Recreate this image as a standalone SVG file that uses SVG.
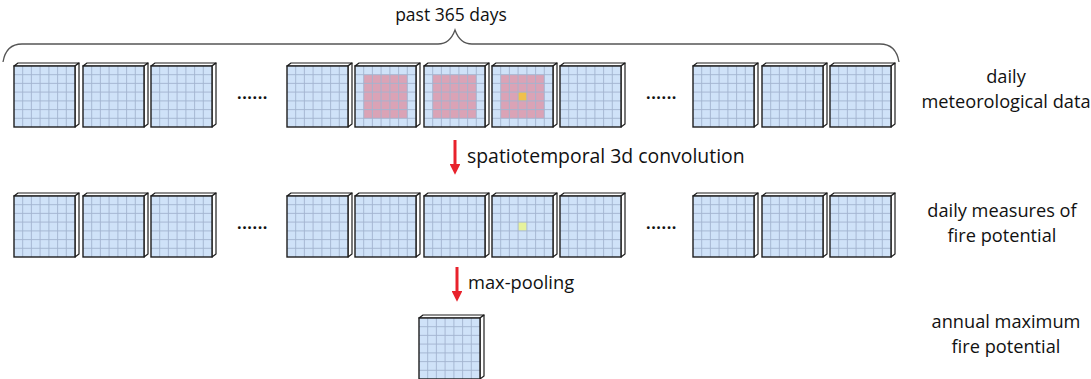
<svg xmlns="http://www.w3.org/2000/svg" xmlns:xlink="http://www.w3.org/1999/xlink" width="1091" height="379" viewBox="0 0 1091 379">
  <style>
    .lbl { font-family: "Open Sans", Lato, "Liberation Sans", sans-serif; fill: #111; }
    .side { font-size: 18.2px; text-anchor: middle; }
    .step { font-size: 18.3px; }
    .step.wide { font-size: 19.4px; }
    .dots { font-size: 16px; font-weight: bold; letter-spacing: 0.6px; }
    .face { fill: #cfe2f8; stroke: none; }
    .edge { fill: #ffffff; stroke: #1e1e1e; stroke-width: 1.2; stroke-linejoin: round; }
    .rim { fill: none; stroke: #1e1e1e; stroke-width: 1.4; }
    .grid { stroke: #a3b4cf; stroke-width: 0.9; fill: none; }
    .region { fill: #dc98aa; opacity: 0.85; }
    .hot { fill: #f0c04c; }
    .warm { fill: #e6f29c; }
    .brace { fill: none; stroke: #555; stroke-width: 1.3; }
    .flow { stroke: #e8222c; stroke-width: 3; fill: none; }
  </style>
  <defs>
    <!-- one tile: 61x61 front face with a 7x7 cell grid, plus thin top and side faces -->
    <g id="slab">
      <polygon class="edge" points="0,0 4,-3 65,-3 61,0"/>
      <polygon class="edge" points="61,0 65,-3 65,58 61,61"/>
      <rect class="face" x="0" y="0" width="61" height="61"/>
    </g>
    <path id="cells" class="grid" d="M8.7,0V61M17.4,0V61M26.1,0V61M34.9,0V61M43.6,0V61M52.3,0V61M0,8.7H61M0,17.4H61M0,26.1H61M0,34.9H61M0,43.6H61M0,52.3H61"/>
    <rect id="frame" class="rim" x="0" y="0" width="61" height="61"/>
    <marker id="head" viewBox="0 0 10 10" refX="2" refY="5" markerWidth="3.6" markerHeight="3.6" orient="auto" markerUnits="strokeWidth">
      <path d="M0,0 L10,5 L0,10 Z" fill="#e8222c"/>
    </marker>
  </defs>

  <!-- brace over the year of inputs -->
  <path class="brace" d="M3,62 Q6,44 22,44 L438,44 Q450,44 455,30 Q460,44 472,44 L880,44 Q896,44 899,62"/>
  <text class="lbl" x="451" y="21" font-size="17.5" text-anchor="middle">past 365 days</text>

  <!-- row 1: daily meteorological data -->
  <g id="met-1" transform="translate(14,66)"><use href="#slab"/><use href="#cells"/><use href="#frame"/></g>
  <g id="met-2" transform="translate(83,66)"><use href="#slab"/><use href="#cells"/><use href="#frame"/></g>
  <g id="met-3" transform="translate(151,66)"><use href="#slab"/><use href="#cells"/><use href="#frame"/></g>
  <text class="lbl dots" x="237" y="99">......</text>
  <g id="met-4" transform="translate(287,66)"><use href="#slab"/><use href="#cells"/><use href="#frame"/></g>
  <g id="met-5" transform="translate(355,66)"><use href="#slab"/><rect class="region" x="8.7" y="8.7" width="43.6" height="43.6"/><use href="#cells"/><use href="#frame"/></g>
  <g id="met-6" transform="translate(424,66)"><use href="#slab"/><rect class="region" x="8.7" y="8.7" width="43.6" height="43.6"/><use href="#cells"/><use href="#frame"/></g>
  <g id="met-7" transform="translate(492,66)"><use href="#slab"/><rect class="region" x="8.7" y="8.7" width="43.6" height="43.6"/><rect class="hot" x="26.1" y="26.1" width="8.7" height="8.7"/><use href="#cells"/><use href="#frame"/></g>
  <g id="met-8" transform="translate(560,66)"><use href="#slab"/><use href="#cells"/><use href="#frame"/></g>
  <text class="lbl dots" x="646" y="99">......</text>
  <g id="met-9" transform="translate(693,66)"><use href="#slab"/><use href="#cells"/><use href="#frame"/></g>
  <g id="met-10" transform="translate(762,66)"><use href="#slab"/><use href="#cells"/><use href="#frame"/></g>
  <g id="met-11" transform="translate(830,66)"><use href="#slab"/><use href="#cells"/><use href="#frame"/></g>
  <text class="lbl side" x="1006" y="83">daily</text>
  <text class="lbl side" x="1006" y="108">meteorological data</text>

  <!-- row 2: daily measures of fire potential -->
  <g id="fp-1" transform="translate(14,196)"><use href="#slab"/><use href="#cells"/><use href="#frame"/></g>
  <g id="fp-2" transform="translate(83,196)"><use href="#slab"/><use href="#cells"/><use href="#frame"/></g>
  <g id="fp-3" transform="translate(151,196)"><use href="#slab"/><use href="#cells"/><use href="#frame"/></g>
  <text class="lbl dots" x="237" y="229">......</text>
  <g id="fp-4" transform="translate(287,196)"><use href="#slab"/><use href="#cells"/><use href="#frame"/></g>
  <g id="fp-5" transform="translate(355,196)"><use href="#slab"/><use href="#cells"/><use href="#frame"/></g>
  <g id="fp-6" transform="translate(424,196)"><use href="#slab"/><use href="#cells"/><use href="#frame"/></g>
  <g id="fp-7" transform="translate(492,196)"><use href="#slab"/><rect class="warm" x="26.1" y="26.1" width="8.7" height="8.7"/><use href="#cells"/><use href="#frame"/></g>
  <g id="fp-8" transform="translate(560,196)"><use href="#slab"/><use href="#cells"/><use href="#frame"/></g>
  <text class="lbl dots" x="646" y="229">......</text>
  <g id="fp-9" transform="translate(693,196)"><use href="#slab"/><use href="#cells"/><use href="#frame"/></g>
  <g id="fp-10" transform="translate(762,196)"><use href="#slab"/><use href="#cells"/><use href="#frame"/></g>
  <g id="fp-11" transform="translate(830,196)"><use href="#slab"/><use href="#cells"/><use href="#frame"/></g>
  <text class="lbl side" x="1002" y="217">daily measures of</text>
  <text class="lbl side" x="1002" y="242">fire potential</text>

  <!-- row 3: annual maximum -->
  <g id="annual-max" transform="translate(419,318)"><use href="#slab"/><use href="#cells"/><use href="#frame"/></g>
  <text class="lbl side" x="1006" y="328">annual maximum</text>
  <text class="lbl side" x="1006" y="353">fire potential</text>

  <!-- processing steps between rows -->
  <g id="connectors">
    <line class="flow" x1="455" y1="140" x2="455" y2="166" marker-end="url(#head)"/>
    <line class="flow" x1="457" y1="267" x2="457" y2="293" marker-end="url(#head)"/>
  </g>
  <text class="lbl step wide" x="467" y="163">spatiotemporal 3d convolution</text>
  <text class="lbl step" x="468" y="289">max-pooling</text>
</svg>
